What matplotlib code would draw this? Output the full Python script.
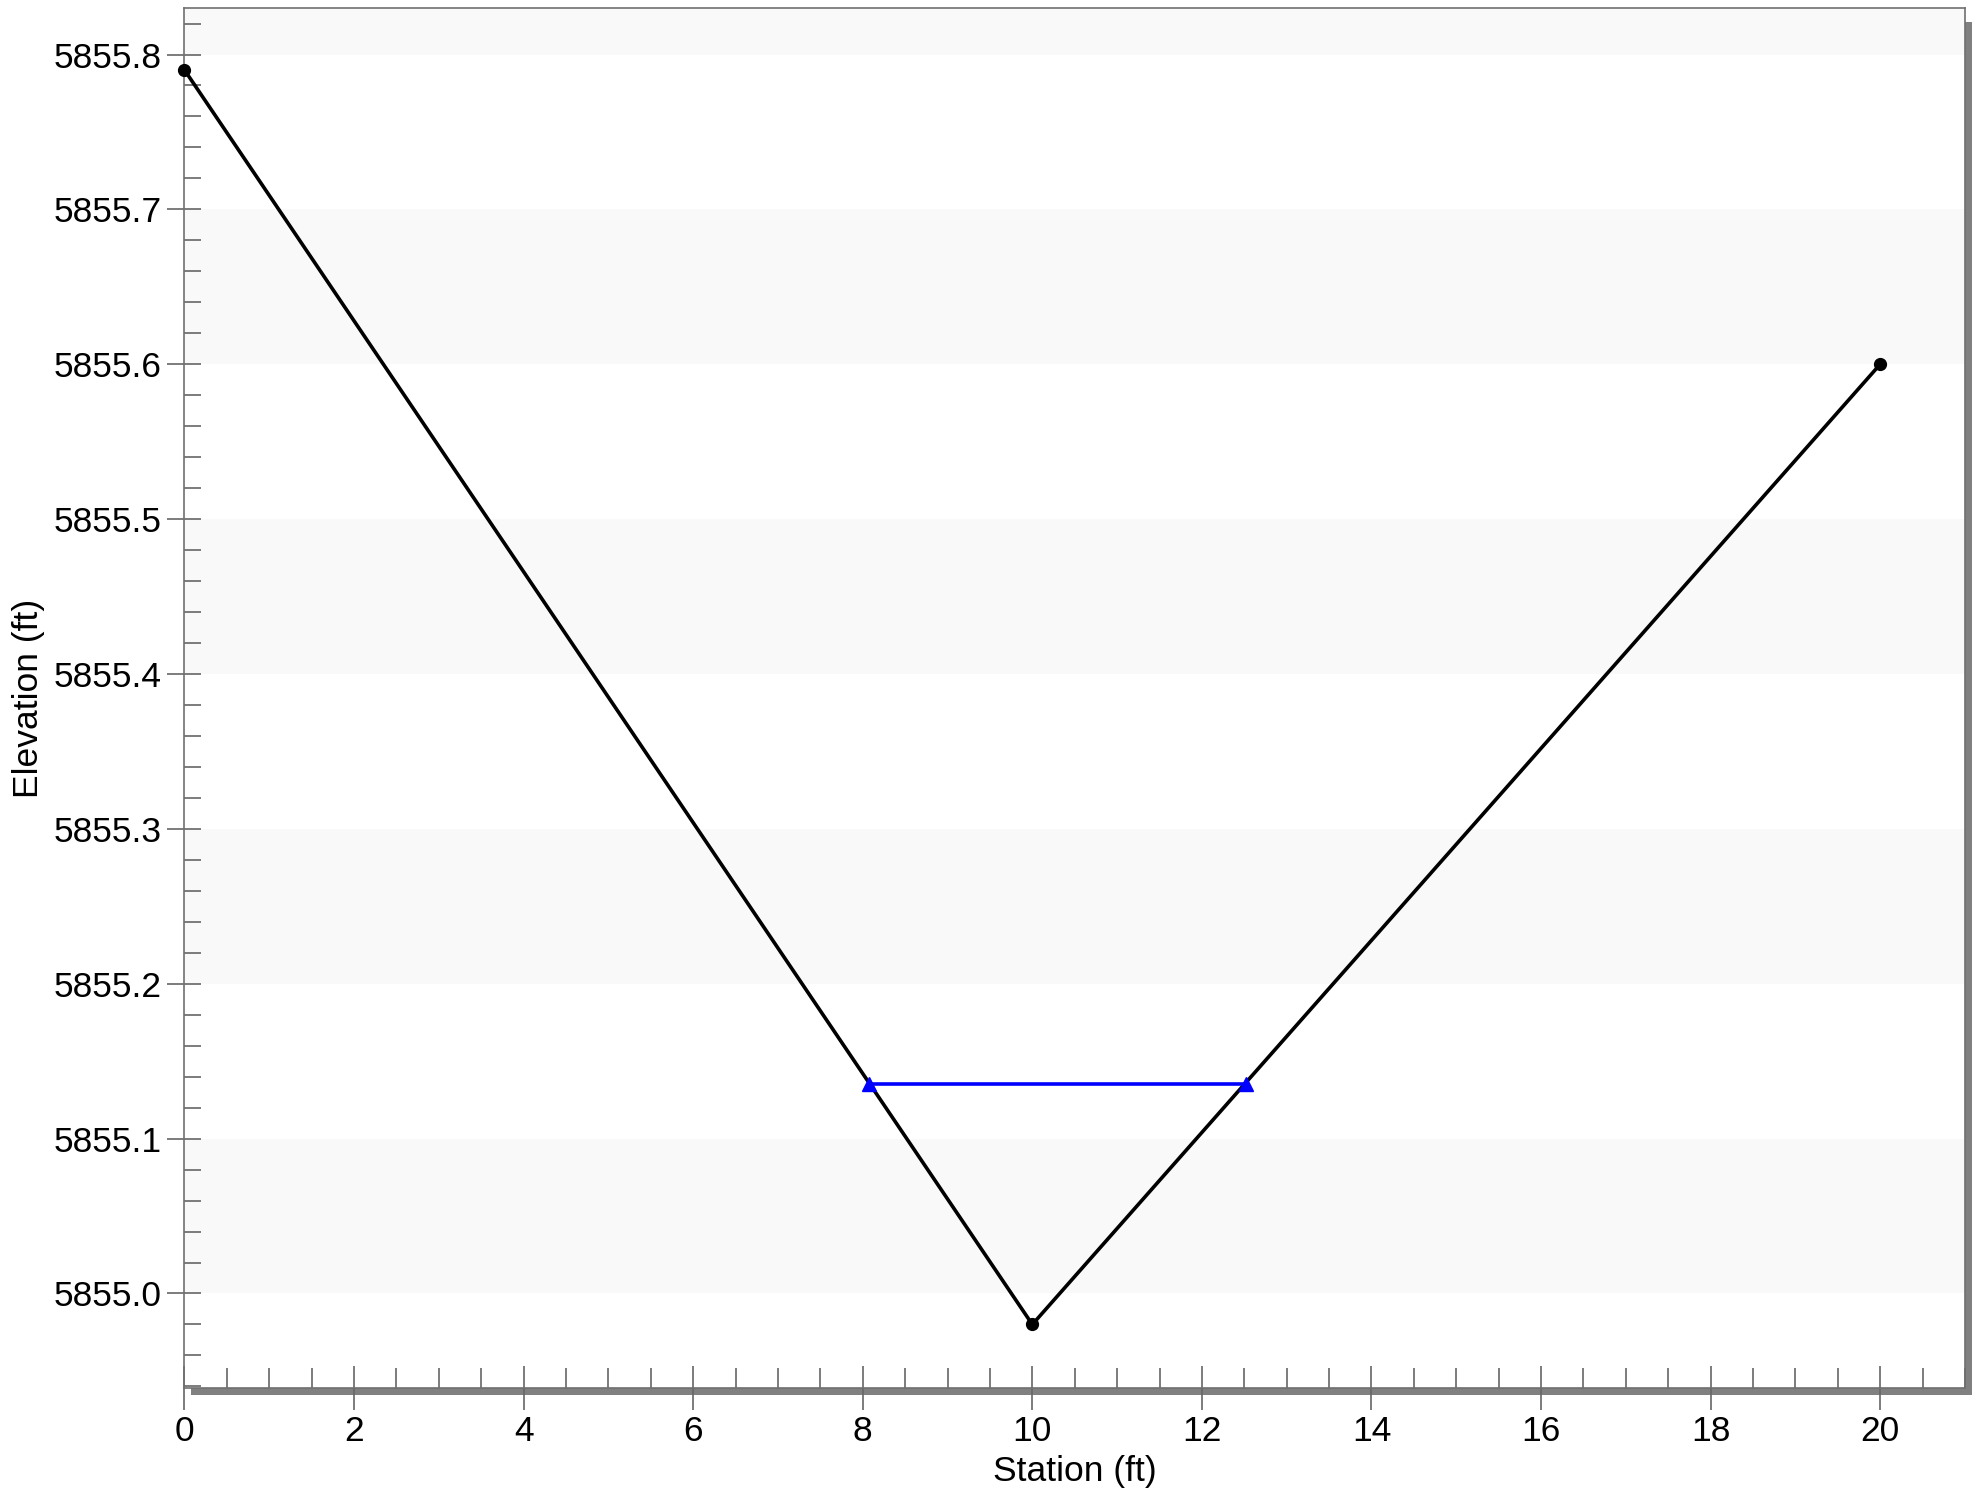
import matplotlib.pyplot as plt
from matplotlib.patches import Rectangle
from matplotlib.ticker import MultipleLocator, FormatStrFormatter

plt.rcParams['font.family'] = ['Liberation Sans', 'DejaVu Sans']

# 断面データ
station = [0.0, 10.0, 20.0]
elevation = [5855.79, 5854.98, 5855.60]

# 水面
ws_station = [8.07, 12.52]
ws_elevation = [5855.135, 5855.135]

fig = plt.figure(figsize=(19.86, 14.91), dpi=100)
left, bottom, right, top = 0.0929, 0.0691, 0.9894, 0.9946
ax = fig.add_axes([left, bottom, right - left, top - bottom])

# 影
sx = 7 / 1986
sy = 7 / 1491
shadow = Rectangle((left + sx, bottom - sy), right - left, top - bottom - sy,
                   transform=fig.transFigure, facecolor='#808080',
                   edgecolor='none', zorder=-1)
fig.patches.append(shadow)

ax.set_xlim(0, 21.0)
ax.set_ylim(5854.939, 5855.830)

# 背景の縞
for y0 in [5855.0, 5855.2, 5855.4, 5855.6, 5855.8]:
    ax.axhspan(y0, y0 + 0.1, facecolor='#f9f9f9', edgecolor='none', zorder=0)

ax.plot(station, elevation, color='black', lw=2.6, marker='o', ms=8.5, zorder=3,
        clip_on=False)
ax.plot(ws_station, ws_elevation, color='#0000ff', lw=2.6, marker='^', ms=9.5,
        zorder=4)

ax.xaxis.set_major_locator(MultipleLocator(2))
ax.xaxis.set_minor_locator(MultipleLocator(0.5))
ax.yaxis.set_major_locator(MultipleLocator(0.1))
ax.yaxis.set_minor_locator(MultipleLocator(0.02))
ax.yaxis.set_major_formatter(FormatStrFormatter('%.1f'))

tc = '#666666'
ax.tick_params(axis='x', which='major', direction='inout', length=31, width=1.2,
               color=tc, labelsize=25.5, pad=4)
ax.tick_params(axis='x', which='minor', direction='in', length=14.4, width=1.2,
               color=tc)
ax.tick_params(axis='y', which='major', direction='inout', length=24.5,
               width=1.2, color=tc, labelsize=25.5, pad=4)
ax.tick_params(axis='y', which='minor', direction='in', length=12.2, width=1.2,
               color=tc)

for s in ax.spines.values():
    s.set_color('#707070')
    s.set_linewidth(1.2)

ax.set_xlabel('Station (ft)', fontsize=25.5, labelpad=5)
ax.set_ylabel('Elevation (ft)', fontsize=25.5, labelpad=6)

fig.savefig('out.png', dpi=100)
